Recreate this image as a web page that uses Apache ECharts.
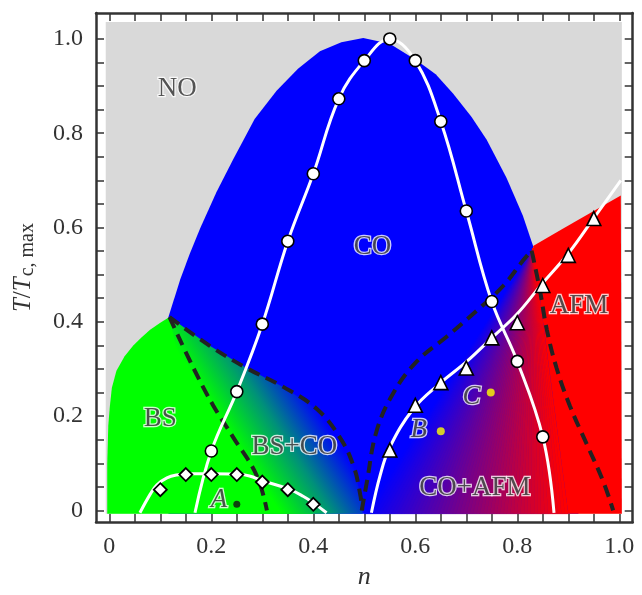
<!DOCTYPE html>
<html>
<head>
<meta charset="utf-8">
<script src="https://cdn.jsdelivr.net/npm/echarts@6.0.0/dist/echarts.min.js"></script>
<style>
  html, body { margin: 0; padding: 0; background: #fff; }
  #chart { width: 642px; height: 595px; }
</style>
</head>
<body>
<div id="chart"></div>
<script>
// axis ticks / labels
const xTicks = [0, 0.05, 0.1, 0.15, 0.2, 0.25, 0.3, 0.35, 0.4, 0.45, 0.5, 0.55, 0.6, 0.65, 0.7, 0.75, 0.8, 0.85, 0.9, 0.95, 1.0]
const xLabels = [0, 0.2, 0.4, 0.6, 0.8, 1.0]
const yTicks = [0, 0.05, 0.1, 0.15, 0.2, 0.25, 0.3, 0.35, 0.4, 0.45, 0.5, 0.55, 0.6, 0.65, 0.7, 0.75, 0.8, 0.85, 0.9, 0.95, 1.0]
const yLabels = [0, 0.2, 0.4, 0.6, 0.8, 1.0]

// phase regions (n, T)
const noRegion = [[-0.007, -0.007], [1.005, -0.007], [1.005, 1.036], [-0.007, 1.036]]
const coRegion = [[0.116, 0.41], [0.139, 0.49], [0.158, 0.545], [0.178, 0.598], [0.21, 0.675], [0.243, 0.745],
  [0.285, 0.83], [0.328, 0.89], [0.37, 0.937], [0.413, 0.974], [0.455, 0.993], [0.498, 1.002], [0.55, 0.99],
  [0.603, 0.954], [0.64, 0.925], [0.674, 0.884], [0.71, 0.835], [0.740, 0.786], [0.779, 0.705], [0.811, 0.625],
  [0.831, 0.561], [0.92, -0.007], [0.116, -0.007]]
const bsRegion = [[-0.004, -0.007], [-0.004, 0.1], [-0.002, 0.18], [0.001, 0.22], [0.005, 0.26], [0.014, 0.296],
  [0.03, 0.327], [0.047, 0.35], [0.063, 0.367], [0.080, 0.383], [0.1, 0.398], [0.118, 0.41], [0.4, -0.007]]
const bsCoRegion = [[0.118, 0.41], [0.197, 0.349], [0.269, 0.302], [0.341, 0.262], [0.407, 0.215], [0.452, 0.155],
  [0.479, 0.094], [0.492, 0.034], [0.497, -0.007], [0.2, -0.007]]
const afmRegion = [[0.831, 0.561], [0.89, 0.598], [1.003, 0.668], [1.005, -0.007], [0.9, -0.007]]
const coAfmApex = [0.831, 0.556]
const coAfmBase = [0.50, 0.90]

// dashed boundaries
const dashBsLeft = [[0.118, 0.41], [0.165, 0.302], [0.204, 0.222], [0.243, 0.155], [0.289, 0.074], [0.309, 0.0]]
const dashBsRight = [[0.118, 0.41], [0.197, 0.349], [0.269, 0.302], [0.341, 0.262], [0.407, 0.215], [0.452, 0.155],
  [0.479, 0.094], [0.492, 0.034], [0.496, 0.0]]
const dashAfmLeft = [[0.495, 0.0], [0.505, 0.06], [0.524, 0.168], [0.557, 0.249], [0.603, 0.316], [0.662, 0.369],
  [0.720, 0.423], [0.773, 0.477], [0.812, 0.531], [0.828, 0.551]]
const dashAfmRight = [[0.828, 0.551], [0.831, 0.537], [0.845, 0.463], [0.858, 0.383], [0.877, 0.302], [0.903, 0.222],
  [0.936, 0.141], [0.969, 0.06], [0.988, 0.0]]

// white fitted lines
const lineCo = [[0.168, -0.005], [0.2, 0.126], [0.25, 0.252], [0.3, 0.395], [0.35, 0.571], [0.4, 0.714], [0.45, 0.873],
  [0.5, 0.954], [0.55, 1.0], [0.6, 0.954], [0.65, 0.825], [0.7, 0.635], [0.75, 0.443], [0.8, 0.316], [0.85, 0.156], [0.872, -0.005]]
const lineBs = [[0.06, -0.005], [0.08, 0.034], [0.093, 0.054], [0.113, 0.069], [0.132, 0.075], [0.16, 0.078], [0.2, 0.078],
  [0.25, 0.077], [0.275, 0.073], [0.3, 0.063], [0.35, 0.046], [0.38, 0.03], [0.4, 0.016], [0.426, -0.005]]
const lineAfm = [[0.514, -0.005], [0.531, 0.074], [0.55, 0.134], [0.596, 0.215], [0.648, 0.269], [0.701, 0.316],
  [0.75, 0.366], [0.799, 0.416], [0.848, 0.48], [0.9, 0.545], [0.95, 0.62], [1.003, 0.70]]

// simulation points
const circN = [0.2, 0.25, 0.3, 0.35, 0.4, 0.45, 0.5, 0.55, 0.6, 0.65, 0.7, 0.75, 0.8, 0.85]
const circT = [0.126, 0.252, 0.395, 0.571, 0.714, 0.873, 0.954, 1.0, 0.954, 0.825, 0.635, 0.443, 0.316, 0.156]
const diamN = [0.1, 0.15, 0.2, 0.25, 0.3, 0.35, 0.4]
const diamT = [0.044, 0.076, 0.076, 0.076, 0.06, 0.044, 0.013]
const triN = [0.55, 0.6, 0.65, 0.7, 0.75, 0.8, 0.85, 0.9, 0.95]
const triT = [0.128, 0.223, 0.271, 0.302, 0.366, 0.398, 0.477, 0.541, 0.619]

// marked states
const blackDots = [[0.25, 0.013]]
const yellowDots = [[0.65, 0.168], [0.748, 0.25]]

// region labels
const regionLabels = [[0.133, 0.894, 'NO'], [0.516, 0.559, 'CO'], [0.921, 0.433, 'AFM'], [0.1, 0.195, 'BS'],
  [0.363, 0.134, 'BS+CO'], [0.717, 0.048, 'CO+AFM']]
const stateLabels = [[0.215, 0.023, 'A'], [0.607, 0.170, 'B'], [0.71, 0.241, 'C']]

const FONT = 'Liberation Serif'
const chart = echarts.init(document.getElementById('chart'))

function zip(xs, ys) {
  return xs.map((x, i) => [x, ys[i]])
}

function polygon(points, fill, z) {
  return {
    type: 'custom', silent: true, clip: false, z: z, data: points,
    renderItem: (params, api) => {
      if (params.dataIndex !== 0) return
      return { type: 'polygon', shape: { points: points.map(p => api.coord(p)) }, style: { fill: typeof fill === 'function' ? fill(api) : fill } }
    }
  }
}

// BS+CO: green -> blue across the mixed region
function bsCoFill(api) {
  const a = api.coord([0.35, -0.03])
  const b = api.coord([0.495, 0.07])
  return new echarts.graphic.LinearGradient(a[0], a[1], b[0], b[1], [
    { offset: 0, color: '#00ff00' },
    { offset: 0.5, color: '#00907a' },
    { offset: 1, color: '#0000ff' }
  ], true)
}

// CO+AFM: blue -> red fan from the top of the mixed region
function coAfmFan() {
  return {
    type: 'custom', silent: true, clip: false, z: 5, data: [coAfmApex],
    renderItem: (params, api) => {
      const K = 60
      const top = api.coord(coAfmApex)
      const children = []
      for (let i = 0; i < K; i++) {
        const n0 = coAfmBase[0] + (coAfmBase[1] - coAfmBase[0]) * i / K
        const n1 = coAfmBase[0] + (coAfmBase[1] - coAfmBase[0]) * (i + 1) / K
        const f = (i + 0.5) / K
        const col = 'rgb(' + Math.round(255 * f) + ',0,' + Math.round(255 * (1 - f)) + ')'
        children.push({
          type: 'polygon',
          shape: { points: [top, api.coord([n0, -0.007]), api.coord([n1, -0.007])] },
          style: { fill: col, stroke: col, lineWidth: 0.6 }
        })
      }
      return { type: 'group', children: children }
    }
  }
}

function curve(data, color, width, dash, z) {
  return {
    type: 'line', data: data, smooth: 0.4, symbol: 'none', silent: true, z: z, clip: false,
    lineStyle: { color: color, width: width, type: dash || 'solid', cap: 'butt' }
  }
}

function markers(data, symbol, size, z, border) {
  return {
    type: 'scatter', data: data, symbol: symbol, symbolSize: size, z: z, silent: true,
    itemStyle: { color: '#fff', borderColor: '#000', borderWidth: border || 1.6, opacity: 1 }
  }
}

const labelStyle = {
  show: true, position: 'inside', color: '#2a2a2a', fontFamily: FONT, fontSize: 27,
  textBorderColor: '#fff', textBorderWidth: 2.5, formatter: p => p.value[2]
}

const axisLine = { onZero: false, lineStyle: { color: '#333', width: 2.5 } }
const tickStyle = { color: '#333', width: 1.5 }
const fmt = v => (v === 0 ? '0' : v.toFixed(1))

chart.setOption({
  animation: false,
  textStyle: { fontFamily: FONT },
  grid: { left: 96, top: 13, right: 9.3, bottom: 46 },
  xAxis: [{
    type: 'value', min: -0.0261, max: 1.0263, position: 'bottom',
    splitLine: { show: false }, axisLine: axisLine,
    axisTick: { inside: true, length: 8, customValues: xTicks, lineStyle: tickStyle },
    axisLabel: { customValues: xLabels, formatter: fmt, margin: 13, fontSize: 24, color: '#333', fontFamily: FONT },
    name: 'n', nameLocation: 'middle', nameGap: 27,
    nameTextStyle: { fontStyle: 'italic', fontSize: 26, fontFamily: FONT, color: '#333' }
  }, {
    type: 'value', min: -0.0261, max: 1.0263, position: 'top',
    splitLine: { show: false }, axisLine: axisLine,
    axisTick: { inside: true, length: 8, customValues: xTicks, lineStyle: tickStyle },
    axisLabel: { show: false }
  }],
  yAxis: [{
    type: 'value', min: -0.0248, max: 1.055, position: 'left',
    splitLine: { show: false }, axisLine: axisLine,
    axisTick: { inside: true, length: 8, customValues: yTicks, lineStyle: tickStyle },
    axisLabel: { customValues: yLabels, formatter: fmt, margin: 13, fontSize: 24, color: '#333', fontFamily: FONT },
    name: '{i|T}{r|/}{i|T}{s|c, max}', nameLocation: 'middle', nameGap: 58,
    nameTextStyle: {
      fontFamily: FONT, color: '#333',
      rich: {
        i: { fontStyle: 'italic', fontSize: 25, fontFamily: FONT, color: '#333' },
        r: { fontSize: 25, fontFamily: FONT, color: '#333' },
        s: { fontSize: 20, fontFamily: FONT, color: '#333', padding: [10, 0, 0, 1] }
      }
    }
  }, {
    type: 'value', min: -0.0248, max: 1.055, position: 'right',
    splitLine: { show: false }, axisLine: axisLine,
    axisTick: { inside: true, length: 8, customValues: yTicks, lineStyle: tickStyle },
    axisLabel: { show: false }
  }],
  series: [
    polygon(noRegion, '#d9d9d9', 1),
    polygon(coRegion, '#0000ff', 2),
    polygon(bsRegion, '#00ff00', 3),
    polygon(bsCoRegion, bsCoFill, 4),
    polygon(afmRegion, '#ff0000', 4),
    coAfmFan(),
    curve(dashBsLeft, '#222', 4, [12, 7], 6),
    curve(dashBsRight, '#222', 4, [12, 7], 6),
    curve(dashAfmLeft, '#222', 4, [12, 7], 6),
    curve(dashAfmRight, '#222', 4, [12, 7], 6),
    curve(lineCo, '#fff', 3, null, 7),
    curve(lineBs, '#fff', 3, null, 7),
    curve(lineAfm, '#fff', 3, null, 7),
    markers(zip(circN, circT), 'circle', 12, 8),
    markers(zip(diamN, diamT), 'diamond', 13, 8, 1.8),
    markers(zip(triN, triT), 'triangle', 14, 8),
    { type: 'scatter', data: blackDots, symbolSize: 7, z: 8, silent: true, itemStyle: { color: '#111' } },
    { type: 'scatter', data: yellowDots, symbolSize: 8, z: 8, silent: true, itemStyle: { color: '#ffff00' } },
    { type: 'scatter', data: regionLabels, symbolSize: 0, z: 9, silent: true, label: labelStyle },
    { type: 'scatter', data: stateLabels, symbolSize: 0, z: 9, silent: true, label: Object.assign({}, labelStyle, { fontStyle: 'italic' }) }
  ]
})
</script>
</body>
</html>
